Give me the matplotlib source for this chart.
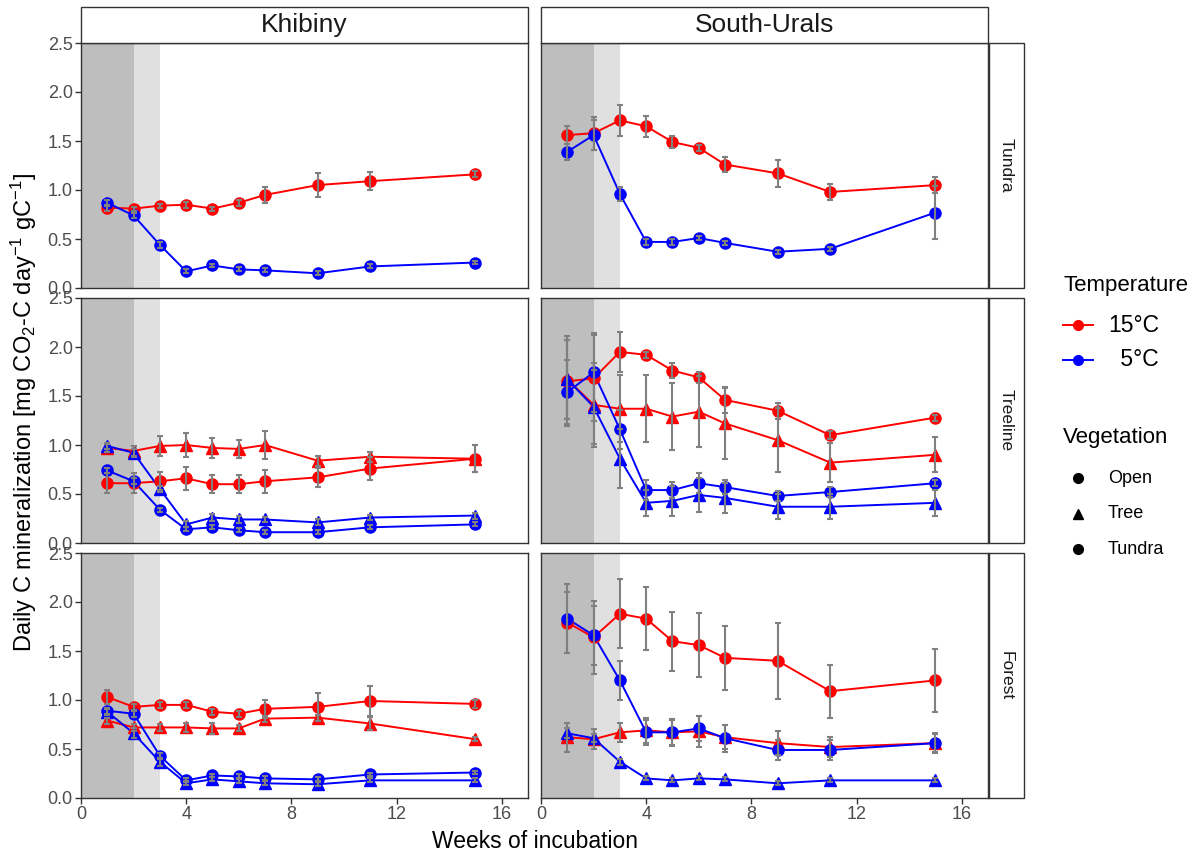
import matplotlib
matplotlib.use("Agg")
import matplotlib.pyplot as plt
from matplotlib.lines import Line2D
from matplotlib.patches import Rectangle

plt.rcParams['font.family'] = ['Liberation Sans', 'DejaVu Sans']
plt.rcParams['mathtext.fontset'] = 'custom'
plt.rcParams['mathtext.rm'] = 'Liberation Sans'
plt.rcParams['mathtext.it'] = 'Liberation Sans:italic'

# ---- data -------------------------------------------------------------
weeks = [1, 2, 3, 4, 5, 6, 7, 9, 11, 15]
regions = ['Khibiny', 'South-Urals']
zones = ['Tundra', 'Treeline', 'Forest']
temps = ['15°C', ' 5°C']
vegetation = ['Open', 'Tree', 'Tundra']

# Khibiny - Tundra
kh_tun_15_tundra = [0.82, 0.81, 0.84, 0.85, 0.81, 0.87, 0.95, 1.05, 1.09, 1.16]
kh_tun_15_tundra_se = [0.03, 0.02, 0.02, 0.03, 0.02, 0.03, 0.08, 0.12, 0.09, 0.03]
kh_tun_5_tundra = [0.87, 0.74, 0.44, 0.17, 0.23, 0.19, 0.18, 0.15, 0.22, 0.26]
kh_tun_5_tundra_se = [0.03, 0.03, 0.03, 0.02, 0.02, 0.02, 0.02, 0.02, 0.02, 0.02]

# South-Urals - Tundra
su_tun_15_tundra = [1.56, 1.58, 1.71, 1.65, 1.49, 1.43, 1.26, 1.17, 0.98, 1.05]
su_tun_15_tundra_se = [0.09, 0.17, 0.16, 0.11, 0.06, 0.03, 0.08, 0.14, 0.08, 0.08]
su_tun_5_tundra = [1.39, 1.56, 0.96, 0.47, 0.47, 0.51, 0.46, 0.37, 0.40, 0.77]
su_tun_5_tundra_se = [0.08, 0.15, 0.07, 0.03, 0.03, 0.02, 0.02, 0.02, 0.02, 0.27]

# Khibiny - Treeline
kh_tre_15_open = [0.61, 0.61, 0.63, 0.66, 0.60, 0.60, 0.63, 0.67, 0.76, 0.86]
kh_tre_15_open_se = [0.10, 0.10, 0.09, 0.12, 0.09, 0.09, 0.12, 0.10, 0.12, 0.14]
kh_tre_15_tree = [0.97, 0.94, 0.99, 1.00, 0.97, 0.96, 1.00, 0.84, 0.88, 0.86]
kh_tre_15_tree_se = [0.04, 0.05, 0.10, 0.12, 0.10, 0.09, 0.14, 0.05, 0.05, 0.14]
kh_tre_5_open = [0.74, 0.63, 0.34, 0.14, 0.16, 0.13, 0.11, 0.11, 0.16, 0.19]
kh_tre_5_open_se = [0.03, 0.03, 0.02, 0.02, 0.02, 0.02, 0.02, 0.02, 0.02, 0.02]
kh_tre_5_tree = [0.99, 0.92, 0.55, 0.19, 0.26, 0.24, 0.24, 0.21, 0.26, 0.28]
kh_tre_5_tree_se = [0.03, 0.04, 0.03, 0.03, 0.04, 0.04, 0.03, 0.03, 0.03, 0.03]

# South-Urals - Treeline
su_tre_15_open = [1.65, 1.68, 1.95, 1.92, 1.76, 1.69, 1.46, 1.35, 1.10, 1.28]
su_tre_15_open_se = [0.46, 0.44, 0.20, 0.03, 0.08, 0.06, 0.13, 0.08, 0.04, 0.03]
su_tre_15_tree = [1.67, 1.41, 1.37, 1.37, 1.29, 1.34, 1.22, 1.05, 0.82, 0.90]
su_tre_15_tree_se = [0.40, 0.43, 0.34, 0.34, 0.34, 0.36, 0.36, 0.33, 0.20, 0.18]
su_tre_5_open = [1.54, 1.74, 1.16, 0.54, 0.54, 0.61, 0.57, 0.48, 0.52, 0.61]
su_tre_5_open_se = [0.33, 0.40, 0.20, 0.10, 0.08, 0.10, 0.07, 0.05, 0.05, 0.03]
su_tre_5_tree = [1.67, 1.39, 0.86, 0.41, 0.43, 0.49, 0.46, 0.37, 0.37, 0.41]
su_tre_5_tree_se = [0.40, 0.38, 0.30, 0.13, 0.15, 0.17, 0.15, 0.13, 0.13, 0.13]

# Khibiny - Forest
kh_for_15_open = [1.03, 0.93, 0.95, 0.95, 0.88, 0.86, 0.91, 0.93, 0.99, 0.96]
kh_for_15_open_se = [0.07, 0.03, 0.03, 0.03, 0.03, 0.03, 0.09, 0.14, 0.15, 0.04]
kh_for_15_tree = [0.79, 0.72, 0.72, 0.72, 0.71, 0.71, 0.81, 0.82, 0.76, 0.60]
kh_for_15_tree_se = [0.03, 0.04, 0.04, 0.05, 0.06, 0.03, 0.03, 0.03, 0.07, 0.02]
kh_for_5_open = [0.89, 0.86, 0.43, 0.18, 0.23, 0.22, 0.20, 0.19, 0.24, 0.26]
kh_for_5_open_se = [0.03, 0.03, 0.03, 0.02, 0.02, 0.02, 0.02, 0.02, 0.02, 0.02]
kh_for_5_tree = [0.88, 0.66, 0.37, 0.15, 0.19, 0.17, 0.15, 0.14, 0.18, 0.18]
kh_for_5_tree_se = [0.03, 0.05, 0.04, 0.02, 0.02, 0.02, 0.02, 0.02, 0.02, 0.02]

# South-Urals - Forest
su_for_15_open = [1.79, 1.64, 1.88, 1.83, 1.60, 1.56, 1.43, 1.40, 1.09, 1.20]
su_for_15_open_se = [0.31, 0.37, 0.35, 0.32, 0.30, 0.33, 0.33, 0.39, 0.27, 0.32]
su_for_15_tree = [0.62, 0.60, 0.67, 0.69, 0.67, 0.68, 0.62, 0.56, 0.52, 0.56]
su_for_15_tree_se = [0.15, 0.10, 0.10, 0.13, 0.14, 0.16, 0.12, 0.12, 0.10, 0.09]
su_for_5_open = [1.83, 1.66, 1.20, 0.67, 0.67, 0.71, 0.61, 0.49, 0.49, 0.56]
su_for_5_open_se = [0.35, 0.30, 0.20, 0.13, 0.13, 0.13, 0.14, 0.10, 0.10, 0.10]
su_for_5_tree = [0.66, 0.61, 0.37, 0.20, 0.18, 0.20, 0.19, 0.15, 0.18, 0.18]
su_for_5_tree_se = [0.05, 0.04, 0.03, 0.02, 0.02, 0.02, 0.02, 0.02, 0.02, 0.02]

# (temperature, vegetation, mean, se) per panel
panels = {
    ('Khibiny', 'Tundra'): [
        ('15°C', 'Tundra', kh_tun_15_tundra, kh_tun_15_tundra_se),
        (' 5°C', 'Tundra', kh_tun_5_tundra, kh_tun_5_tundra_se)],
    ('South-Urals', 'Tundra'): [
        ('15°C', 'Tundra', su_tun_15_tundra, su_tun_15_tundra_se),
        (' 5°C', 'Tundra', su_tun_5_tundra, su_tun_5_tundra_se)],
    ('Khibiny', 'Treeline'): [
        ('15°C', 'Open', kh_tre_15_open, kh_tre_15_open_se),
        ('15°C', 'Tree', kh_tre_15_tree, kh_tre_15_tree_se),
        (' 5°C', 'Open', kh_tre_5_open, kh_tre_5_open_se),
        (' 5°C', 'Tree', kh_tre_5_tree, kh_tre_5_tree_se)],
    ('South-Urals', 'Treeline'): [
        ('15°C', 'Open', su_tre_15_open, su_tre_15_open_se),
        ('15°C', 'Tree', su_tre_15_tree, su_tre_15_tree_se),
        (' 5°C', 'Open', su_tre_5_open, su_tre_5_open_se),
        (' 5°C', 'Tree', su_tre_5_tree, su_tre_5_tree_se)],
    ('Khibiny', 'Forest'): [
        ('15°C', 'Open', kh_for_15_open, kh_for_15_open_se),
        ('15°C', 'Tree', kh_for_15_tree, kh_for_15_tree_se),
        (' 5°C', 'Open', kh_for_5_open, kh_for_5_open_se),
        (' 5°C', 'Tree', kh_for_5_tree, kh_for_5_tree_se)],
    ('South-Urals', 'Forest'): [
        ('15°C', 'Open', su_for_15_open, su_for_15_open_se),
        ('15°C', 'Tree', su_for_15_tree, su_for_15_tree_se),
        (' 5°C', 'Open', su_for_5_open, su_for_5_open_se),
        (' 5°C', 'Tree', su_for_5_tree, su_for_5_tree_se)],
}

colors = {'15°C': '#FF0000', ' 5°C': '#0000FF'}
markers = {'Open': 'o', 'Tree': '^', 'Tundra': 'o'}
msizes = {'o': 8, '^': 8.5}

# ---- layout -----------------------------------------------------------
W, H = 1203, 856
fig = plt.figure(figsize=(W / 100, H / 100), dpi=100)

col_x = [81, 541]
col_w = 447
row_y = [43, 298, 553]
row_h = 245

def fx(x):
    return x / W

def fy(y):
    return 1 - y / H

def fbox(x, y, w, h):
    return [x / W, 1 - (y + h) / H, w / W, h / H]

tick_col = '#4D4D4D'

for r, zone in enumerate(zones):
    for c, region in enumerate(regions):
        ax = fig.add_axes(fbox(col_x[c], row_y[r], col_w, row_h))
        ax.axvspan(0, 2, color='#BEBEBE', lw=0, zorder=0)
        ax.axvspan(2, 3, color='#E0E0E0', lw=0, zorder=0)

        for temp, veg, mean, se in panels[(region, zone)]:
            col = colors[temp]
            m = markers[veg]
            ax.plot(weeks, mean, color=col, lw=1.4, zorder=2)
            ax.plot(weeks, mean, ls='none', marker=m, ms=msizes[m],
                    color=col, mec=col, zorder=3)
            ax.errorbar(weeks, mean, yerr=se, fmt='none', ecolor='#808080',
                        elinewidth=1.5, capsize=2.5, capthick=1.5, zorder=4)

        ax.set_xlim(0, 17)
        ax.set_ylim(0, 2.5)
        ax.set_xticks([0, 4, 8, 12, 16])
        ax.set_yticks([0, 0.5, 1.0, 1.5, 2.0, 2.5])
        ax.tick_params(colors='#333333', labelcolor=tick_col, labelsize=13,
                       length=4, width=1, pad=2)
        if c == 0:
            ax.set_yticklabels(['0.0', '0.5', '1.0', '1.5', '2.0', '2.5'])
        else:
            ax.tick_params(axis='y', left=False, labelleft=False)
        if r < 2:
            ax.tick_params(axis='x', bottom=False, labelbottom=False)
        for sp in ax.spines.values():
            sp.set_color('#333333')
            sp.set_linewidth(1.0)

        # right strip
        if c == 1:
            fig.patches.append(Rectangle((fx(989), fy(row_y[r] + row_h)),
                                         35 / W, row_h / H,
                                         transform=fig.transFigure,
                                         facecolor='white', edgecolor='#333333', lw=1.0))
            fig.text(fx(1006), fy(row_y[r] + row_h / 2), zone,
                     rotation=270, ha='center', va='center', fontsize=12.5,
                     color='#1A1A1A')

# top strips
for c, region in enumerate(regions):
    fig.patches.append(Rectangle((fx(col_x[c]), fy(43)), col_w / W, 36 / H,
                                 transform=fig.transFigure,
                                 facecolor='white', edgecolor='#333333', lw=1.0))
    fig.text(fx(col_x[c] + col_w / 2), fy(32), region,
             ha='center', va='baseline', fontsize=19, color='#1A1A1A')

fig.text(fx(24), fy(412),
         'Daily C mineralization [mg CO$_2$-C day$^{-1}$ gC$^{-1}$]',
         rotation=90, ha='center', va='center', fontsize=17)
fig.text(fx(535), fy(842), 'Weeks of incubation',
         ha='center', va='center', fontsize=16.5)

# ---- legends (drawn by hand, ggplot-style) ---------------------------
fig.text(fx(1063), fy(286), 'Temperature', ha='left', va='center', fontsize=16)
for i, t in enumerate(temps):
    yy = fy(325 + 35 * i)
    fig.add_artist(Line2D([fx(1063), fx(1093)], [yy, yy], color=colors[t],
                          lw=1.4, transform=fig.transFigure))
    fig.add_artist(Line2D([fx(1078)], [yy], color=colors[t], marker='o', ms=7,
                          transform=fig.transFigure))
    fig.text(fx(1159), yy, t, ha='right', va='center', fontsize=16.5)

fig.text(fx(1063), fy(438), 'Vegetation', ha='left', va='center', fontsize=16)
for i, v in enumerate(vegetation):
    yy = fy(478 + 35.5 * i)
    fig.add_artist(Line2D([fx(1078)], [yy], color='black', ls='none',
                          marker=markers[v], ms=7, transform=fig.transFigure))
    fig.text(fx(1108), yy, v, ha='left', va='center', fontsize=13)

fig.savefig('out.png', dpi=100)
